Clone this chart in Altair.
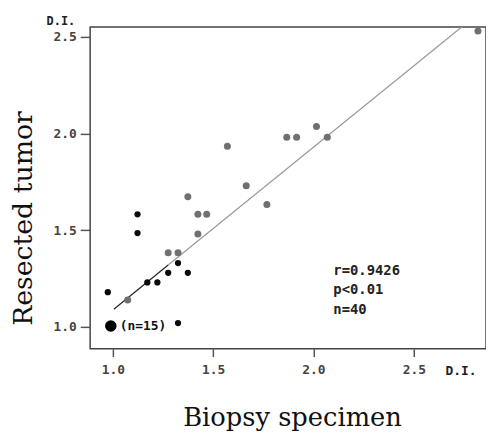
import altair as alt
import pandas as pd

# ---- data ----
gray_x = [2.82, 1.571, 1.867, 1.916, 2.015, 2.069, 1.665, 1.374, 1.768, 1.424, 1.468, 1.424, 1.276, 1.325, 1.074]
gray_y = [2.53, 1.934, 1.98, 1.98, 2.036, 1.98, 1.73, 1.673, 1.633, 1.582, 1.582, 1.48, 1.383, 1.383, 1.14]

black_x = [1.123, 1.123, 1.325, 1.276, 1.374, 1.172, 1.222, 0.975, 1.325]
black_y = [1.582, 1.485, 1.33, 1.28, 1.28, 1.23, 1.23, 1.18, 1.02]

big_x = [0.99]
big_y = [1.005]
big_label = ["(n=15)"]

line_dark_x = [1.005, 1.276]
line_dark_y = [1.092, 1.320]
line_gray_x = [1.276, 2.739]
line_gray_y = [1.320, 2.55]

x_ticks = [1.0, 1.5, 2.0, 2.5]
y_ticks = [1.0, 1.5, 2.0, 2.5]

stats_text = ["r=0.9426", "p<0.01", "n=40"]
stats_x = [2.099, 2.099, 2.099]
stats_y = [1.27, 1.168, 1.066]

unit_label = ["D.I."]

# ---- chart ----
mono = "DejaVu Sans Mono"
serif = "DejaVu Serif"

xs = alt.Scale(domain=[0.887, 2.86], nice=False, zero=False)
ys = alt.Scale(domain=[0.888, 2.55], nice=False, zero=False)

x_axis = alt.Axis(values=x_ticks, format=".1f", title="Biopsy specimen", grid=False, domain=False,
                  tickSize=8, tickColor="#555", tickWidth=1.5, labelPadding=7,
                  labelFont=mono, labelFontSize=13, labelFontWeight="bold", labelColor="#444",
                  titleFont=serif, titleFontSize=26, titleFontWeight="normal", titleColor="#111",
                  titleX=204, titleY=78, titleAlign="center", titleBaseline="alphabetic")
y_axis = alt.Axis(values=y_ticks, format=".1f", title="Resected tumor", grid=False, domain=False,
                  tickSize=10, tickColor="#555", tickWidth=1.5, labelPadding=4,
                  labelFont=mono, labelFontSize=13, labelFontWeight="bold", labelColor="#444",
                  titleFont=serif, titleFontSize=27, titleFontWeight="normal", titleColor="#111",
                  titleX=-59, titleY=193, titleAlign="center", titleBaseline="alphabetic")

gray_df = pd.DataFrame({"x": gray_x, "y": gray_y})
black_df = pd.DataFrame({"x": black_x, "y": black_y})
big_df = pd.DataFrame({"x": big_x, "y": big_y, "t": big_label})
ld_df = pd.DataFrame({"x": line_dark_x, "y": line_dark_y})
lg_df = pd.DataFrame({"x": line_gray_x, "y": line_gray_y})
st_df = pd.DataFrame({"x": stats_x, "y": stats_y, "t": stats_text})
unit_df = pd.DataFrame({"t": unit_label})

gray_pts = alt.Chart(gray_df).mark_circle(size=50, color="#707070", opacity=1).encode(
    x=alt.X("x:Q", scale=xs, axis=x_axis),
    y=alt.Y("y:Q", scale=ys, axis=y_axis),
)
black_pts = alt.Chart(black_df).mark_circle(size=40, color="#0a0a0a", opacity=1).encode(
    x=alt.X("x:Q", scale=xs), y=alt.Y("y:Q", scale=ys))
big_pt = alt.Chart(big_df).mark_circle(size=135, color="#000000", opacity=1).encode(
    x=alt.X("x:Q", scale=xs), y=alt.Y("y:Q", scale=ys))
big_txt = alt.Chart(big_df).mark_text(align="left", baseline="middle", dx=9, font=mono,
                                      fontSize=13, fontWeight="bold", color="#111").encode(
    x=alt.X("x:Q", scale=xs), y=alt.Y("y:Q", scale=ys), text="t:N")

line_dark = alt.Chart(ld_df).mark_line(color="#222", strokeWidth=1.2).encode(
    x=alt.X("x:Q", scale=xs), y=alt.Y("y:Q", scale=ys))
line_gray = alt.Chart(lg_df).mark_line(color="#9a9a9a", strokeWidth=1.2).encode(
    x=alt.X("x:Q", scale=xs), y=alt.Y("y:Q", scale=ys))

stats = alt.Chart(st_df).mark_text(align="left", baseline="alphabetic", font=mono, fontSize=14,
                                   fontWeight="bold", color="#222").encode(
    x=alt.X("x:Q", scale=xs), y=alt.Y("y:Q", scale=ys), text="t:N")

unit_top = alt.Chart(unit_df).mark_text(align="left", baseline="alphabetic", font=mono, fontSize=12,
                                        fontWeight="bold", color="#222").encode(
    x=alt.value(-44), y=alt.value(-2), text="t:N")
unit_bottom = alt.Chart(unit_df).mark_text(align="left", baseline="alphabetic", font=mono, fontSize=13,
                                           fontWeight="bold", color="#222").encode(
    x=alt.value(359), y=alt.value(352), text="t:N")

chart = alt.layer(
    line_gray, line_dark, gray_pts, black_pts, big_pt, big_txt, stats, unit_top, unit_bottom
).properties(
    width=400, height=325,
    autosize=alt.AutoSizeParams(type="none"),
    padding={"left": 83, "top": 17, "right": 0, "bottom": 82},
).configure_view(stroke="#444", strokeWidth=1.5)

chart.save("out.html", embed_options={"renderer": "svg", "actions": False})
